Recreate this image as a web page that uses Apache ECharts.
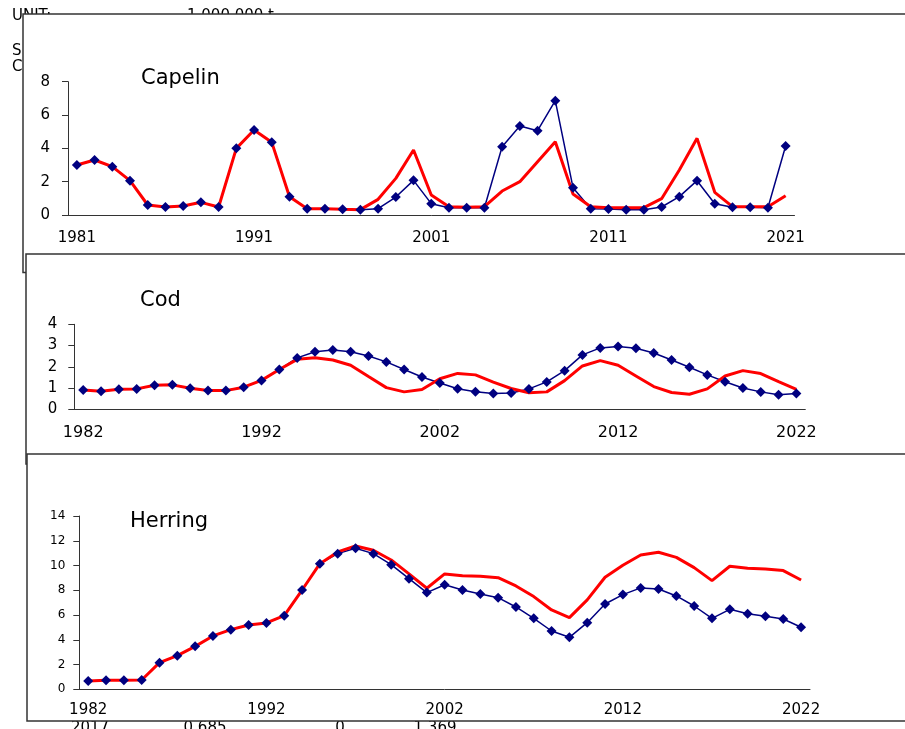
<!DOCTYPE html>
<html>
<head>
<meta charset="utf-8">
<script src="https://cdn.jsdelivr.net/npm/echarts@6/dist/echarts.min.js"></script>
<style>html,body{margin:0;padding:0;background:#fff}#c{width:905px;height:729px}</style>
</head>
<body>
<div id="c"></div>
<script>
// ---- data ----
const capelinYears = [];
for (let y = 1981; y <= 2021; y++) capelinYears.push(String(y));
const codYears = [];
for (let y = 1982; y <= 2022; y++) codYears.push(String(y));
const herringYears = codYears.slice();

const capelinBlue = [3.0,3.3,2.9,2.06,0.6,0.48,0.54,0.76,0.48,4.0,5.1,4.36,1.1,0.38,0.38,0.34,0.32,0.38,1.08,2.08,0.68,0.44,0.44,0.44,4.1,5.34,5.06,6.86,1.64,0.38,0.36,0.32,0.32,0.48,1.1,2.06,0.68,0.46,0.46,0.44,4.14];
const capelinRed  = [3.0,3.3,2.9,2.06,0.6,0.48,0.54,0.76,0.48,4.0,5.1,4.36,1.1,0.38,0.38,0.34,0.32,0.94,2.2,3.9,1.2,0.5,0.46,0.5,1.44,2.0,3.2,4.4,1.26,0.5,0.44,0.44,0.44,0.98,2.7,4.6,1.36,0.5,0.5,0.5,1.16];

const codBlue = [0.91,0.85,0.94,0.96,1.13,1.15,0.99,0.89,0.88,1.04,1.36,1.87,2.42,2.71,2.79,2.71,2.51,2.23,1.87,1.52,1.24,0.97,0.83,0.74,0.77,0.96,1.29,1.82,2.56,2.89,2.95,2.87,2.65,2.32,1.98,1.62,1.30,1.0,0.82,0.69,0.74];
const codRed  = [0.91,0.85,0.94,0.96,1.13,1.15,0.99,0.89,0.88,1.04,1.36,1.87,2.35,2.43,2.32,2.07,1.54,1.02,0.82,0.93,1.44,1.69,1.62,1.28,0.98,0.78,0.82,1.35,2.04,2.29,2.07,1.57,1.07,0.79,0.71,0.96,1.57,1.82,1.68,1.30,0.94];

const herringBlue = [0.67,0.73,0.73,0.75,2.15,2.72,3.47,4.31,4.82,5.2,5.36,5.95,8.02,10.15,10.96,11.39,10.96,10.07,8.94,7.81,8.45,8.02,7.7,7.4,6.65,5.73,4.71,4.2,5.38,6.89,7.65,8.19,8.1,7.54,6.73,5.73,6.46,6.11,5.9,5.68,5.01];
const herringRed  = [0.67,0.73,0.73,0.75,2.15,2.72,3.47,4.31,4.82,5.2,5.36,5.95,8.02,10.15,11.1,11.58,11.23,10.45,9.32,8.16,9.32,9.18,9.13,9.02,8.35,7.49,6.41,5.79,7.22,9.05,10.02,10.85,11.07,10.66,9.83,8.78,9.94,9.77,9.72,9.59,8.83];

const panelTitles = ['Capelin','Cod','Herring'];
const yMax = [8, 4, 14];
const yInterval = [2, 1, 2];
const footerLabels = ['2017','0.685','0','1.369'];

// ---- chart ----
const FONT = 'DejaVu Sans';
const chart = echarts.init(document.getElementById('c'), null, {renderer:'canvas'});

const grids = [
  {left:68, top:81.7, width:726.5, height:133.3},
  {left:74.3, top:324.3, width:731, height:85},
  {left:79.3, top:516, width:730.7, height:173.3}
];
const xCats = [capelinYears, codYears, herringYears];
const xLabelSize = [15, 16, 15];
const xLabelMargin = [16, 16, 13];
const yLabelSize = [15, 15, 12];
const yLabelMargin = [18, 17, 14];

const axisColor = '#333';
const xAxes = grids.map((g,i)=>({
  gridIndex:i, type:'category', data:xCats[i], boundaryGap:true, z:10,
  axisLine:{lineStyle:{color:axisColor,width:1}},
  axisTick:{interval:4, length:6, lineStyle:{color:axisColor}},
  axisLabel:{interval:9, margin:xLabelMargin[i], fontFamily:FONT, fontSize:xLabelSize[i], color:'#000'},
  splitLine:{show:false}
}));
const yAxes = grids.map((g,i)=>({
  gridIndex:i, type:'value', min:0, max:yMax[i], interval:yInterval[i], z:10,
  axisLine:{show:true, lineStyle:{color:axisColor,width:1}},
  axisTick:{show:true, length:6, lineStyle:{color:axisColor}},
  axisLabel:{margin:yLabelMargin[i], fontFamily:FONT, fontSize:yLabelSize[i], color:'#000'},
  splitLine:{show:false}
}));

const blues = [capelinBlue, codBlue, herringBlue];
const reds = [capelinRed, codRed, herringRed];
const series = [];
for (let i=0;i<3;i++){
  series.push({type:'line', name:panelTitles[i]+' blue line', xAxisIndex:i, yAxisIndex:i, data:blues[i], z:11,
    showSymbol:false, symbol:'none', lineStyle:{color:'#000080', width:1.5}, itemStyle:{color:'#000080'}, silent:true});
  series.push({type:'line', name:panelTitles[i]+' red line', xAxisIndex:i, yAxisIndex:i, data:reds[i], z:12,
    showSymbol:false, symbol:'none', lineStyle:{color:'#FF0000', width:3}, itemStyle:{color:'#FF0000'}, silent:true});
  series.push({type:'scatter', name:panelTitles[i]+' markers', xAxisIndex:i, yAxisIndex:i, data:blues[i], z:13,
    symbol:'diamond', symbolSize:10, itemStyle:{color:'#000080', opacity:1}, silent:true});
}

// background text (partly hidden behind the panels) as title components at the lowest z
const bgTexts = [
  {left:12, top:9, text:'UNIT:'},
  {left:187, top:9, text:'1 000 000 t'},
  {left:12, top:44, text:'S'},
  {left:12, top:60, text:'C'}
];
const footerX = [90, 205, 340, 435];
footerLabels.forEach((t,k)=>bgTexts.push({left:footerX[k], top:721, text:t, center:true}));
const titles = bgTexts.map(t=>({
  text:t.text, left:t.left, top:t.top, padding:0, z:0, zlevel:0,
  textAlign: t.center ? 'center' : 'left',
  textStyle:{fontFamily:FONT, fontSize:15, fontWeight:'normal', color:'#000'}
}));

const boxStroke = {stroke:'#333', lineWidth:1.5, fill:'#fff'};
const graphic = [];
graphic.push({type:'rect', z:5, silent:true, shape:{x:23, y:14, width:900, height:258.5}, style:boxStroke});
graphic.push({type:'rect', z:5, silent:true, shape:{x:26, y:254, width:900, height:210}, style:boxStroke});
graphic.push({type:'rect', z:5, silent:true, shape:{x:27, y:454, width:900, height:267}, style:boxStroke});
const titlePos = [[141,68],[140,290],[130,511]];
panelTitles.forEach((t,k)=>{
  graphic.push({type:'text', z:20, silent:true,
    style:{x:titlePos[k][0], y:titlePos[k][1], text:t, font:'21px '+FONT, fill:'#000', verticalAlign:'top'}});
});

chart.setOption({
  backgroundColor:'#fff',
  animation:false,
  title:titles,
  grid:grids,
  xAxis:xAxes,
  yAxis:yAxes,
  series:series,
  graphic:{elements:graphic}
});
</script>
</body>
</html>
